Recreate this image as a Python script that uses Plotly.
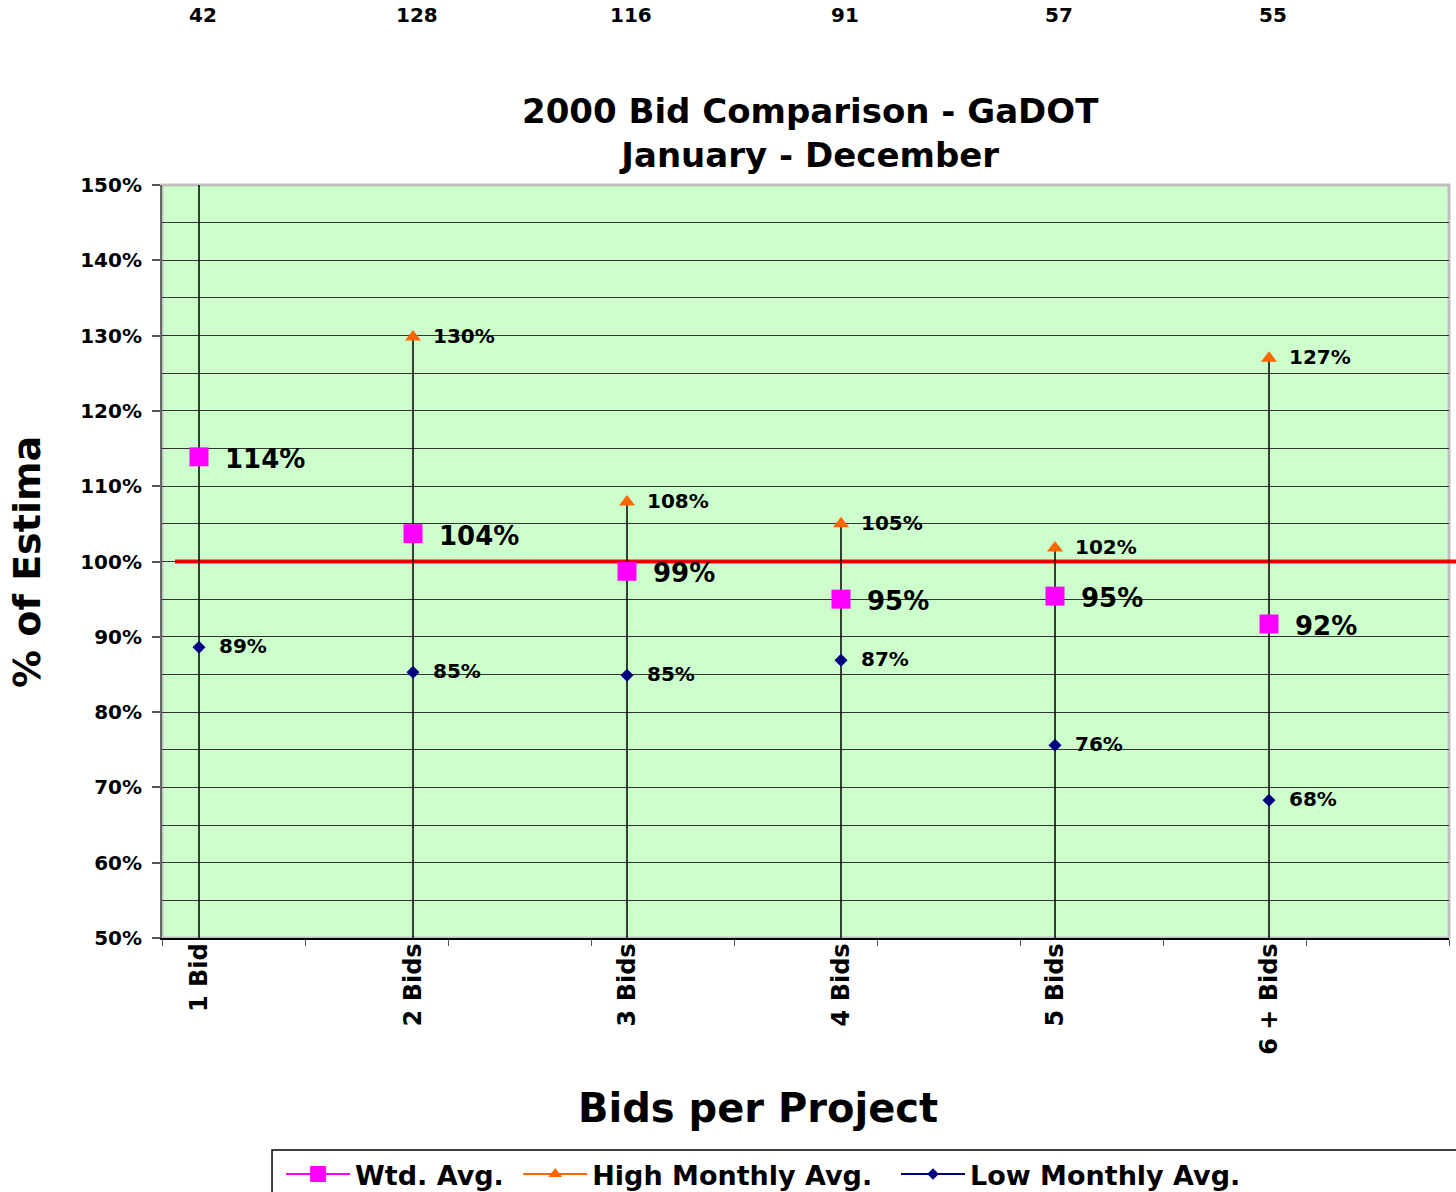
import plotly.graph_objects as go
import numpy as np

categories = ["1 Bid", "2 Bids", "3 Bids", "4 Bids", "5 Bids", "6 + Bids"]
project_counts = [42, 128, 116, 91, 57, 55]
wtd_avg = [113.9, 103.7, 98.7, 95.0, 95.4, 91.7]
high_monthly = [162.0, 129.8, 107.9, 105.0, 101.8, 127.0]
low_monthly = [88.6, 85.3, 84.9, 86.9, 75.6, 68.3]
target = 100

FONT = "DejaVu Sans"
NB = "\u00a0"
xs = list(range(len(categories)))
XMIN, XMAX = -0.1729, 5.841
YMIN, YMAX = 50, 150

fig = go.Figure()

# drop lines from high value down to axis
lx, ly = [], []
for i, h in zip(xs, high_monthly):
    lx += [i, i, None]
    ly += [h, YMIN, None]
fig.add_trace(go.Scatter(x=lx, y=ly, mode="lines", line=dict(color="black", width=1.5),
                         showlegend=False, hoverinfo="skip"))

fig.add_trace(go.Scatter(x=xs, y=low_monthly, mode="markers", name="Low Monthly Avg.",
                         marker=dict(symbol="diamond", size=10, color="#000080"),
                         showlegend=False, cliponaxis=False))
fig.add_trace(go.Scatter(x=xs, y=high_monthly, mode="markers", name="High Monthly Avg.",
                         marker=dict(symbol="triangle-up", size=14, color="#FF6600"),
                         showlegend=False, cliponaxis=True))
fig.add_trace(go.Scatter(x=xs, y=wtd_avg, mode="markers", name="Wtd. Avg.",
                         marker=dict(symbol="square", size=19, color="#FF00FF"),
                         showlegend=False, cliponaxis=False))

# legend entries
fig.add_trace(go.Scatter(x=[None], y=[None], mode="lines+markers", name="Wtd. Avg." + NB,
                         line=dict(color="#FF00FF", width=2),
                         marker=dict(symbol="square", size=16, color="#FF00FF")))
fig.add_trace(go.Scatter(x=[None], y=[None], mode="lines+markers", name="High Monthly Avg." + NB * 2,
                         line=dict(color="#FF6600", width=2),
                         marker=dict(symbol="triangle-up", size=12, color="#FF6600")))
fig.add_trace(go.Scatter(x=[None], y=[None], mode="lines+markers", name="Low Monthly Avg.",
                         line=dict(color="#000080", width=2),
                         marker=dict(symbol="diamond", size=9, color="#000080")))

annotations = []
for i, v in zip(xs, wtd_avg):
    annotations.append(dict(x=i, y=v, xref="x", yref="y", text=f"{round(v)}%", showarrow=False,
                            xanchor="left", yanchor="middle", xshift=24, yshift=-2,
                            font=dict(family=FONT, size=26, color="black", weight="bold")))
for i, v in zip(xs, high_monthly):
    annotations.append(dict(x=i, y=v, xref="x", yref="y", text=f"{round(v)}%", showarrow=False,
                            xanchor="left", yanchor="middle", xshift=18, yshift=1,
                            font=dict(family=FONT, size=20, color="black", weight="bold")))
for i, v in zip(xs, low_monthly):
    annotations.append(dict(x=i, y=v, xref="x", yref="y", text=f"{round(v)}%", showarrow=False,
                            xanchor="left", yanchor="middle", xshift=18, yshift=1,
                            font=dict(family=FONT, size=20, color="black", weight="bold")))
for i, c in zip(xs, project_counts):
    annotations.append(dict(x=i, y=1.2258, xref="x", yref="paper", text=str(c), showarrow=False,
                            xanchor="center", yanchor="middle", xshift=4,
                            font=dict(family=FONT, size=20, color="black", weight="bold")))

annotations.append(dict(x=0.5035, y=1.0684, xref="paper", yref="paper",
                        text="2000 Bid Comparison - GaDOT<br>January - December", showarrow=False,
                        xanchor="center", yanchor="middle",
                        font=dict(family=FONT, size=34, color="black", weight="bold")))
annotations.append(dict(x=-0.1049, y=0.4993, xref="paper", yref="paper", text="% of Estima",
                        showarrow=False, textangle=-90, xanchor="center", yanchor="middle",
                        font=dict(family=FONT, size=38, color="black", weight="bold")))
annotations.append(dict(x=0.463, y=-0.2258, xref="paper", yref="paper", text="Bids per Project",
                        showarrow=False, xanchor="center", yanchor="middle",
                        font=dict(family=FONT, size=40, color="black", weight="bold")))

shapes = [
    dict(type="rect", xref="paper", yref="paper", x0=0, x1=1, y0=0, y1=1,
         line=dict(color="#BFBFBF", width=3), layer="below"),
    dict(type="line", xref="paper", yref="y", x0=0.0101, x1=1.006, y0=target, y1=target,
         line=dict(color="#FF0000", width=4), layer="between"),
    dict(type="rect", xref="paper", yref="paper", x0=0.0855, x1=1.009, y0=-0.2815, y1=-0.35,
         line=dict(color="black", width=1.5), fillcolor="rgba(0,0,0,0)", layer="above"),
]

fig.update_layout(
    width=1456, height=1192,
    margin=dict(l=162, r=7, t=185, b=254, autoexpand=False),
    paper_bgcolor="white", plot_bgcolor="#CCFFCC",
    showlegend=True,
    legend=dict(orientation="h", x=0.0925, y=-0.2815, xanchor="left", yanchor="top",
                font=dict(family=FONT, size=27, color="black", weight="bold"),
                bgcolor="rgba(0,0,0,0)", borderwidth=0, itemwidth=64),
    annotations=annotations, shapes=shapes,
    xaxis=dict(range=[XMIN, XMAX], tickvals=xs, ticktext=categories, tickangle=-90,
               ticks="", showgrid=False, zeroline=False,
               showline=True, linecolor="black", linewidth=1.5, ticklabelstandoff=-6,
               tickfont=dict(family=FONT, size=24, color="black", weight="bold"),
               minor=dict(tickvals=list(np.linspace(XMIN, XMAX, 10)), ticks="outside",
                          ticklen=6, tickcolor="#555", showgrid=False)),
    yaxis=dict(range=[YMIN, YMAX], dtick=10, ticksuffix="%", ticks="outside", ticklen=8,
               tickcolor="#555", tickwidth=1.5, showline=True, linecolor="#666", linewidth=2,
               showgrid=True, gridcolor="#333", gridwidth=1.2, zeroline=False,
               ticklabelstandoff=6,
               tickfont=dict(family=FONT, size=20, color="black", weight="bold"),
               minor=dict(dtick=5, showgrid=True, gridcolor="#333", gridwidth=1.2, ticks="")),
)

# remove the default 8px page margin so the figure fills the window exactly
fig.write_html("out.html", config={"displayModeBar": False},
               post_script="document.body.style.margin='0';")
